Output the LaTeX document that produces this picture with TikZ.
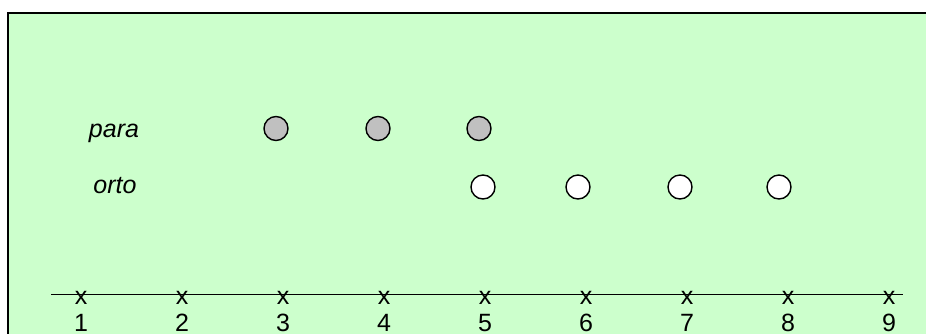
\documentclass[tikz,border=0pt]{standalone}
\usepackage{fontspec}
\setmainfont{Liberation Sans}
\usetikzlibrary{positioning}
\definecolor{panelgreen}{HTML}{CCFFCC}
\definecolor{paragray}{HTML}{C0C0C0}

\tikzset{
  spin/.style={circle, draw=black, line width=1.4pt, minimum size=24pt, inner sep=0pt},
  paraspin/.style={spin, fill=paragray},
  ortospin/.style={spin, fill=white},
  rowlabel/.style={anchor=base, font=\fontsize{25}{30}\selectfont\itshape},
  tickmark/.style={anchor=base, inner sep=0pt, font=\fontsize{25}{30}\selectfont},
  ticknum/.style={anchor=base, inner sep=0pt, font=\fontsize{25}{30}\selectfont}
}

\begin{document}
\begin{tikzpicture}[x=1pt, y=-1pt]
\useasboundingbox (0,0) rectangle (926,333);
\clip (0,0) rectangle (926,333);
\draw[fill=panelgreen, draw=black, line width=1.6pt] (8,13) rectangle (940,345);

% row labels
\node[rowlabel] (para) at (114,137) {para};
\node[rowlabel] (orto) at (115,193) {orto};

% para states
\node[paraspin] (p3) at (276,128.5) {};
\node[paraspin] (p4) at (378,128.5) {};
\node[paraspin] (p5) at (479,128.5) {};

% orto states
\node[ortospin] (o5) at (483,187) {};
\node[ortospin] (o6) at (578,187) {};
\node[ortospin] (o7) at (680,187) {};
\node[ortospin] (o8) at (779,187) {};

% axis
\coordinate (axl) at (51,294);
\coordinate (axr) at (903,294);
\draw[line width=1pt] (axl) -- (axr);
\foreach \n in {1,...,9} {
  \node[tickmark] (t\n) at ({81+101*(\n-1)},304.5) {x};
  \node[ticknum] (n\n) at ({81+101*(\n-1)},331) {\n};
}
\end{tikzpicture}
\end{document}
